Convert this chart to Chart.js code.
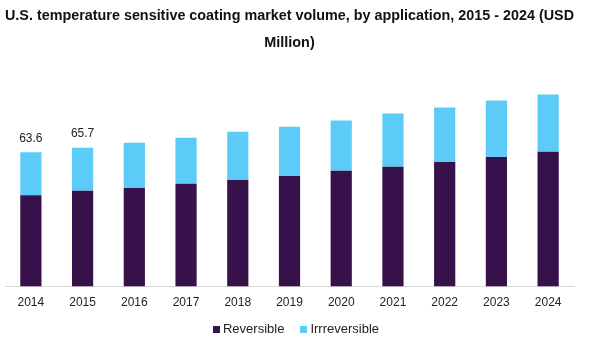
<!DOCTYPE html>
<html lang="en">
<head>
    <meta charset="UTF-8">
    <title>U.S. temperature sensitive coating market volume</title>
    <script src="https://cdn.jsdelivr.net/npm/chart.js"></script>
    <style>
        html, body { margin: 0; padding: 0; background: #fff; }
        .wrap { position: relative; width: 592px; height: 340px; }
        #legend {
            position: absolute; left: 0; top: 321px; width: 592px;
            display: flex; justify-content: center; align-items: center;
            font: 13px "Liberation Sans", Arial, sans-serif; color: #222; line-height: 16px;
        }
        #legend .item { display: flex; align-items: center; margin: 0 8px; }
        #legend .box { width: 7px; height: 7px; margin-right: 3px; }
    </style>
</head>
<body>
    <div class="wrap">
        <canvas id="chart" width="592" height="340"></canvas>
        <div id="legend"></div>
    </div>

    <script>
        // data
        var years = ['2014', '2015', '2016', '2017', '2018', '2019', '2020', '2021', '2022', '2023', '2024'];
        var reversible = [43.3, 45.4, 46.7, 48.7, 50.5, 52.4, 54.9, 56.7, 59.0, 61.4, 63.8];
        var irreversible = [20.3, 20.3, 21.4, 21.8, 22.8, 23.3, 23.7, 25.2, 25.8, 26.7, 27.2];
        var totalLabels = ['63.6', '65.7'];

        // totals written above the first bars
        var totalsPlugin = {
            id: 'totals',
            afterDatasetsDraw: function (chart) {
                var ctx = chart.ctx;
                var x = chart.scales.x, y = chart.scales.y;
                ctx.save();
                ctx.font = '12px "Liberation Sans", Arial, sans-serif';
                ctx.fillStyle = '#222';
                ctx.textAlign = 'center';
                ctx.textBaseline = 'bottom';
                for (var i = 0; i < totalLabels.length; i++) {
                    var total = reversible[i] + irreversible[i];
                    ctx.fillText(totalLabels[i], x.getPixelForValue(i), y.getPixelForValue(total) - 8);
                }
                ctx.restore();
            }
        };

        var ctx = document.getElementById('chart').getContext('2d');
        var chart = new Chart(ctx, {
            type: 'bar',
            data: {
                labels: years,
                datasets: [{
                    label: 'Reversible',
                    data: reversible,
                    backgroundColor: '#37114a'
                }, {
                    label: 'Irrreversible',
                    data: irreversible,
                    backgroundColor: '#5dcbf7'
                }]
            },
            options: {
                responsive: false,
                animation: false,
                datasets: {
                    bar: { barPercentage: 0.41, categoryPercentage: 1.0 }
                },
                layout: { padding: { left: 5, right: 18, top: 2, bottom: 21 } },
                plugins: {
                    title: {
                        display: true,
                        text: ['U.S. temperature sensitive coating market volume, by application, 2015 - 2024 (USD', 'Million)'],
                        color: '#111',
                        font: { family: '"Liberation Sans", Arial, sans-serif', size: 14.4, weight: 'bold', lineHeight: 1.9 },
                        padding: { top: 0, bottom: 6 }
                    },
                    legend: { display: false },
                    tooltip: { enabled: false }
                },
                scales: {
                    x: {
                        stacked: true,
                        grid: { display: false, drawTicks: false },
                        border: { color: '#d9d9d9' },
                        ticks: {
                            color: '#222',
                            padding: 9,
                            font: { family: '"Liberation Sans", Arial, sans-serif', size: 12 }
                        }
                    },
                    y: {
                        stacked: true,
                        display: false,
                        min: 0,
                        max: 106
                    }
                }
            },
            plugins: [totalsPlugin]
        });

        // legend built from the chart's own datasets
        var legendDiv = document.getElementById('legend');
        chart.data.datasets.forEach(function (ds) {
            var item = document.createElement('span');
            item.className = 'item';
            var box = document.createElement('span');
            box.className = 'box';
            box.style.background = ds.backgroundColor;
            item.appendChild(box);
            item.appendChild(document.createTextNode(ds.label));
            legendDiv.appendChild(item);
        });
    </script>
</body>
</html>
